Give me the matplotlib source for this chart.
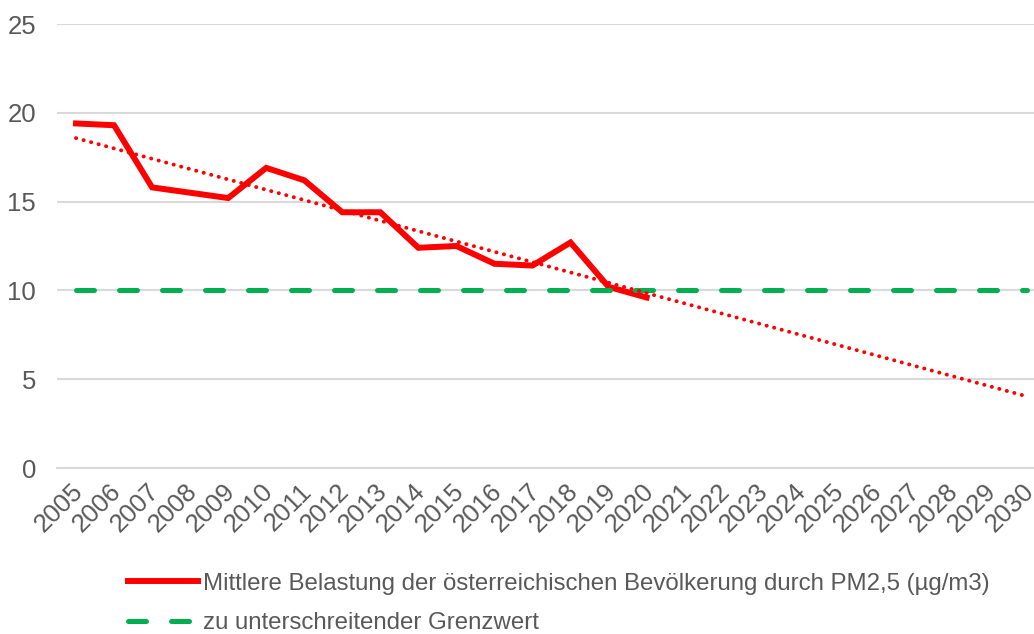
import matplotlib
matplotlib.use('Agg')
import matplotlib.pyplot as plt
import matplotlib.transforms as mtransforms
import numpy as np

plt.rcParams['font.family'] = ['Liberation Sans', 'DejaVu Sans']

# Daten
years = [str(y) for y in range(2005, 2031)]
pm25 = [19.4, 19.3, 15.8, 15.5, 15.2, 16.9, 16.2, 14.4, 14.4, 12.4,
        12.5, 11.5, 11.4, 12.7, 10.2, 9.6]
grenzwert = [10] * len(years)
y_ticks = [0, 5, 10, 15, 20, 25]

label_pm = 'Mittlere Belastung der österreichischen Bevölkerung durch PM2,5 (µg/m3)'
label_gw = 'zu unterschreitender Grenzwert'

grey = '#595959'

fig = plt.figure(figsize=(10.34, 6.34), dpi=100)
ax = fig.add_axes([57 / 1034, 166 / 634, 989 / 1034, 444 / 634])

x_all = np.arange(len(years))
x_pm = np.arange(len(pm25))

ax.plot(x_pm, pm25, color='#ff0000', linewidth=4.3, solid_joinstyle='miter',
        label=label_pm, zorder=3)
ax.plot(x_all, grenzwert, color='#00b050', linewidth=3.6,
        dashes=(3.6, 5.0), dash_capstyle='round', label=label_gw, zorder=4)

# lineare Trendlinie wie in Excel
k, d = np.polyfit(x_pm, pm25, 1)
ax.plot(x_all, k * x_all + d, color='#ff0000', linewidth=2.8,
        dashes=(0.05, 1.95), dash_capstyle='round', zorder=5)

ax.set_xlim(-0.5, len(years) - 0.5)
ax.set_ylim(0, 25)
ax.set_yticks(y_ticks)
ax.set_xticks(x_all)
ax.set_xticklabels(years, rotation=45, ha='right', rotation_mode='anchor')
ax.tick_params(axis='both', length=0, labelsize=18.5, colors=grey)
ax.tick_params(axis='y', pad=15)
ax.tick_params(axis='x', pad=8)
shift = mtransforms.ScaledTranslation(-5 / 100, 0, fig.dpi_scale_trans)
for lbl in ax.get_xticklabels():
    lbl.set_transform(lbl.get_transform() + shift)

ax.grid(axis='y', color='#d9d9d9', linewidth=1.5)
ax.set_axisbelow(True)
for s in ['top', 'right', 'left']:
    ax.spines[s].set_visible(False)
ax.spines['bottom'].set_color('#d9d9d9')
ax.spines['bottom'].set_linewidth(1.5)

leg = fig.legend(loc='upper left', bbox_to_anchor=(118 / 1034, 1 - 563 / 634),
                 frameon=False, fontsize=17.3, handlelength=2.95, handletextpad=0.2,
                 labelspacing=0.72, borderaxespad=0)
for t in leg.get_texts():
    t.set_color(grey)

fig.savefig('out.png', dpi=100)
